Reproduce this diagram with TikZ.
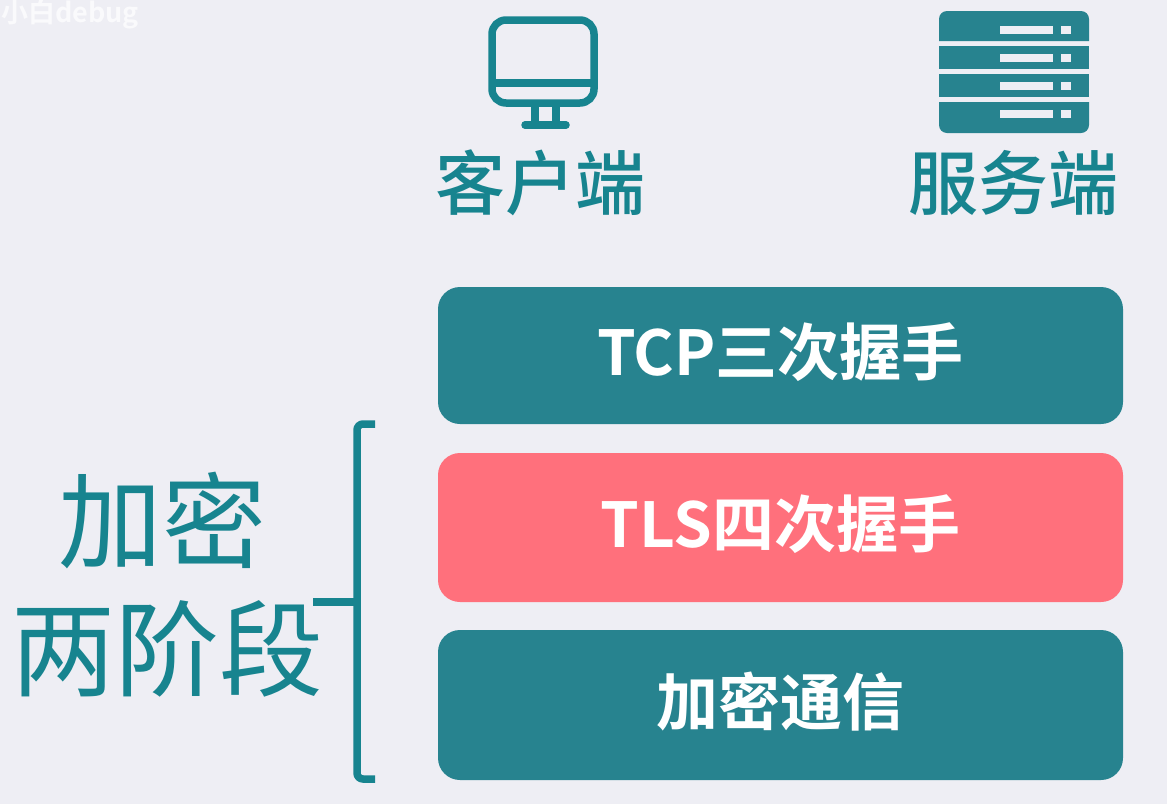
\documentclass[tikz,border=0pt]{standalone}
\usepackage{fontspec}
\usetikzlibrary{calc}
\newfontfamily\cjk{Noto Sans CJK SC Medium}
\newfontfamily\cjkthin{Noto Sans CJK SC}
\newfontfamily\cjkbold{Noto Sans CJK SC Bold}
\definecolor{teal1}{HTML}{27838F}
\definecolor{teal2}{HTML}{17848F}
\definecolor{rose1}{HTML}{FF707C}
\definecolor{page1}{HTML}{EEEEF4}
\tikzset{
  phase/.style={rounded corners=22pt,minimum width=685pt,text=white,inner sep=0pt,
    text height=50pt,text depth=10pt,font={\fontsize{62}{62}\cjkbold}},
  label/.style={text=teal2,inner sep=0pt,font={\fontsize{70}{70}\cjk}},
  biglabel/.style={text=teal2,inner sep=0pt,font={\fontsize{104}{104}\cjkthin}},
  iconline/.style={draw=teal2,line width=7.5pt},
}
\begin{document}
\begin{tikzpicture}[x=1pt,y=-1pt]
  \fill[page1] (0,0) rectangle (1167,804);
  \useasboundingbox (0,0) rectangle (1167,804);

  \node[text=white!70!page1,inner sep=0pt,anchor=west,font={\fontsize{27}{27}\cjkbold}] (mark) at (1,14) {小白debug};

  % monitor
  \draw[iconline,rounded corners=14pt] (492,20) rectangle (594,103);
  \draw[iconline] (492,83) -- (594,83);
  \draw[iconline] (535,105) -- (535,125) (556,105) -- (556,125);
  \draw[iconline,line cap=round] (525,125) -- (566,125);
  \node[label] (client) at (540,183) {客户端};

  % server
  \fill[teal1] (939,41) [rounded corners=8pt] -- (939,11) -- (1089,11) [sharp corners] -- (1089,41) -- cycle;
  \fill[teal1] (939,46) rectangle (1089,69);
  \fill[teal1] (939,74) rectangle (1089,97);
  \fill[teal1] (939,102) [rounded corners=8pt] -- (939,133) -- (1089,133) [sharp corners] -- (1089,102) -- cycle;
  \foreach \y in {26,54,82,110} {
    \fill[page1] (1000,\y) rectangle ++(53,8);
    \fill[page1] (1061,\y) rectangle ++(10,8);
  }
  \node[label] (server) at (1013,183) {服务端};

  \node[phase,fill=teal1,minimum height=137pt] (tcp) at (780.5,355.5) {TCP三次握手};
  \node[phase,fill=rose1,minimum height=149pt] (tls) at (780.5,527.5) {TLS四次握手};
  \node[phase,fill=teal1,minimum height=150pt] (data) at (780.5,705) {加密通信};

  \node[biglabel] (two) at (162,521) {加密};
  \node[biglabel] (stage) at (167,649) {两阶段};

  \coordinate (top) at (375,424);
  \coordinate (bottom) at (375,779);
  \coordinate (stem) at (313,602);
  \draw[iconline,rounded corners=6pt] (top) -| (357,602) |- (bottom);
  \draw[iconline] (stem) -- (357,602);
\end{tikzpicture}
\end{document}
